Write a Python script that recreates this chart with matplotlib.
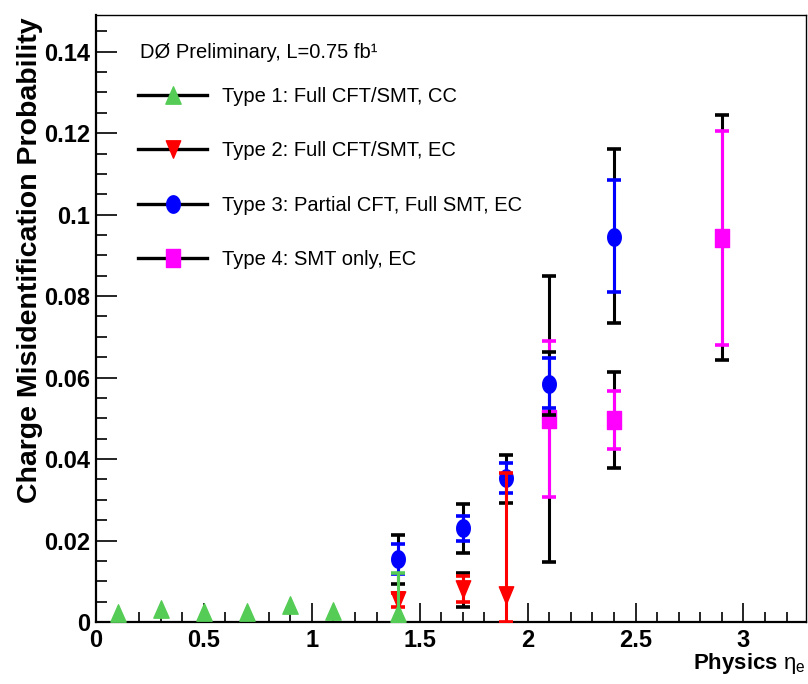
import numpy as np
import matplotlib
matplotlib.use('Agg')
import matplotlib.pyplot as plt
from matplotlib.path import Path
from matplotlib.lines import Line2D
from matplotlib.ticker import MultipleLocator, FuncFormatter

plt.rcParams['font.family'] = ['Liberation Sans', 'DejaVu Sans']
plt.rcParams['mathtext.fontset'] = 'custom'
plt.rcParams['mathtext.rm'] = 'Liberation Sans'
plt.rcParams['mathtext.it'] = 'Liberation Sans:italic'
plt.rcParams['mathtext.bf'] = 'Liberation Sans:bold'

# charge mis-id probability vs eta, per track type
# stat errors (coloured) and total errors (black), given as (down, up)
eta1 = [0.1, 0.3, 0.5, 0.7, 0.9, 1.1, 1.4]
p1 = [0.0023, 0.0031, 0.0025, 0.0024, 0.0041, 0.0027, 0.0022]
stat1_lo = [0, 0, 0, 0, 0, 0, 0.0022]
stat1_hi = [0, 0, 0, 0, 0, 0, 0.0098]
tot1_lo = [0, 0, 0, 0, 0, 0, 0]
tot1_hi = [0, 0, 0, 0, 0, 0, 0]

eta2 = [1.4, 1.7, 1.9]
p2 = [0.0055, 0.0081, 0.0066]
stat2_lo = [0.0017, 0.0032, 0.0066]
stat2_hi = [0.0016, 0.0032, 0.0300]
tot2_lo = [0, 0.0043, 0]
tot2_hi = [0, 0.0040, 0]

eta3 = [1.4, 1.7, 1.9, 2.1, 2.4]
p3 = [0.0155, 0.0231, 0.0353, 0.0585, 0.0946]
stat3_lo = [0.0037, 0.0032, 0.0036, 0.0060, 0.0135]
stat3_hi = [0.0037, 0.0028, 0.0037, 0.0064, 0.0138]
tot3_lo = [0.0062, 0.0062, 0.0061, 0.0076, 0.0211]
tot3_hi = [0.0059, 0.0059, 0.0057, 0.0078, 0.0216]

eta4 = [2.1, 2.4, 2.9]
p4 = [0.0499, 0.0496, 0.0943]
stat4_lo = [0.0192, 0.0071, 0.0263]
stat4_hi = [0.0190, 0.0072, 0.0262]
tot4_lo = [0.0352, 0.0118, 0.0299]
tot4_hi = [0.0350, 0.0118, 0.0301]

labels = ['Type 1: Full CFT/SMT, CC',
          'Type 2: Full CFT/SMT, EC',
          'Type 3: Partial CFT, Full SMT, EC',
          'Type 4: SMT only, EC']
colors = ['#55cc55', '#ff0000', '#0000ff', '#ff00ff']

# slightly tall markers
t = np.linspace(0, 2 * np.pi, 64)
m_circle = Path(np.column_stack([0.78 * np.cos(t), np.sin(t)]), closed=True)
m_up = Path([(0, 1), (-0.88, -1), (0.88, -1), (0, 1)], closed=True)
m_down = Path([(0, -1), (-0.83, 1), (0.83, 1), (0, -1)], closed=True)
m_square = Path([(-0.78, -1), (0.78, -1), (0.78, 1), (-0.78, 1), (-0.78, -1)], closed=True)
markers = [m_up, m_down, m_circle, m_square]
msize = 12.5

series = [
    (eta1, p1, stat1_lo, stat1_hi, tot1_lo, tot1_hi),
    (eta2, p2, stat2_lo, stat2_hi, tot2_lo, tot2_hi),
    (eta3, p3, stat3_lo, stat3_hi, tot3_lo, tot3_hi),
    (eta4, p4, stat4_lo, stat4_hi, tot4_lo, tot4_hi),
]

fig = plt.figure(figsize=(8.08, 6.84), dpi=100)
ax = fig.add_axes([96 / 808, 62 / 684, 710 / 808, 607 / 684])

ebkw = dict(fmt='none', elinewidth=2.2, capsize=4.7, capthick=2.6)
z = 2
for i in [3, 2, 1, 0]:
    x, y, slo, shi, tlo, thi = [np.asarray(a, dtype=float) for a in series[i]]
    m = (tlo + thi) > 0
    if m.any():
        ax.errorbar(x[m], y[m], yerr=[tlo[m], thi[m]], ecolor='k', zorder=z, **ebkw)
    m = (slo + shi) > 0
    if m.any():
        ax.errorbar(x[m], y[m], yerr=[slo[m], shi[m]], ecolor=colors[i], zorder=z + 1, **ebkw)
    ax.plot(x, y, ls='none', marker=markers[i], ms=msize, mfc=colors[i],
            mec=colors[i], zorder=z + 2)
    z += 3

ax.set_xlim(0, 3.29)
ax.set_ylim(0, 0.149)
ax.xaxis.set_major_locator(MultipleLocator(0.5))
ax.xaxis.set_minor_locator(MultipleLocator(0.1))
ax.yaxis.set_major_locator(MultipleLocator(0.02))
ax.yaxis.set_minor_locator(MultipleLocator(0.005))
fmt = FuncFormatter(lambda v, pos: '%g' % round(v, 4))
ax.xaxis.set_major_formatter(fmt)
ax.yaxis.set_major_formatter(fmt)
ax.tick_params(which='both', direction='in', top=False, right=False, width=1.2)
ax.tick_params(axis='x', which='major', length=14, pad=5, labelsize=17)
ax.tick_params(axis='x', which='minor', length=7)
ax.tick_params(axis='y', which='major', length=15, pad=4, labelsize=17)
ax.tick_params(axis='y', which='minor', length=8)
for lab in ax.get_xticklabels() + ax.get_yticklabels():
    lab.set_fontweight('bold')
for s in ['left', 'bottom']:
    ax.spines[s].set_linewidth(1.6)
for s in ['top', 'right']:
    ax.spines[s].set_linewidth(1.0)

fig.text(30 / 808, 1 - 17 / 684, 'Charge Misidentification Probability',
         rotation=90, ha='center', va='top', fontsize=20.5, fontweight='bold')
fig.text(806 / 808, 1 - 664 / 684, r'Physics $\mathrm{\eta}_{\mathrm{e}}$',
         ha='right', va='center', fontsize=16, fontweight='bold')

fig.text(140 / 808, 1 - 52 / 684, 'DØ Preliminary, L=0.75 fb¹',
         ha='left', va='center', fontsize=14.5)

handles = [Line2D([], [], color='k', lw=2.4, marker=markers[i], ms=msize,
                  mfc=colors[i], mec=colors[i]) for i in range(4)]
ax.legend(handles, labels, loc='upper left',
          bbox_to_anchor=(138 / 808, 1 - 87 / 684), bbox_transform=fig.transFigure,
          frameon=False, fontsize=14.5, handlelength=3.43, handletextpad=0.75,
          labelspacing=1.76, borderpad=0, borderaxespad=0)

fig.savefig('out.png', dpi=100)
